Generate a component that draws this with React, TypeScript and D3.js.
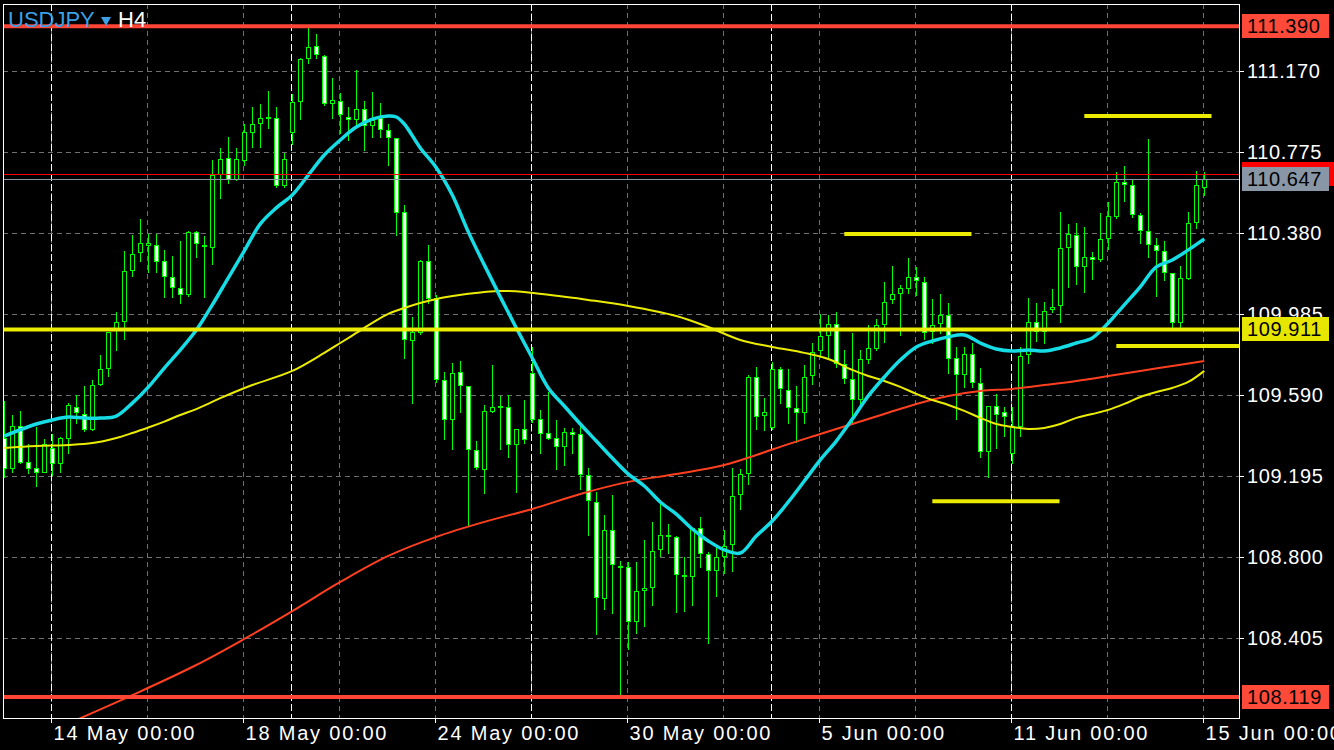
import React, { useEffect } from "react";
import * as d3 from "d3";

const W = 1334;
const H = 750;

// ---------- data ----------
const opens = [
  109.382,109.236,109.440,109.265,109.236,109.216,109.333,109.260,109.382,109.533,
  109.499,109.426,109.645,109.723,109.908,109.953,110.202,110.289,110.324,110.324,
  110.246,110.168,110.114,110.085,110.387,110.319,110.314,110.669,110.747,110.645,
  110.737,110.874,110.918,110.947,110.942,110.616,110.874,111.025,111.235,111.294,
  111.245,111.015,111.025,110.947,110.937,110.986,110.908,110.942,110.884,110.845,
  110.485,109.860,109.899,110.246,110.065,109.665,109.474,109.704,109.635,109.323,
  109.231,109.513,109.538,109.533,109.352,109.426,109.699,109.474,109.406,109.382,
  109.343,109.411,109.401,109.201,109.070,108.602,108.934,108.758,108.753,108.490,
  108.641,108.656,108.841,108.906,108.899,108.714,108.709,108.944,108.817,108.739,
  108.807,108.865,109.109,109.211,109.679,109.494,109.435,109.718,109.616,109.528,
  109.509,109.689,109.811,109.884,109.938,109.743,109.669,109.572,109.767,109.821,
  109.938,110.060,110.090,110.114,110.168,110.143,109.904,109.943,109.982,109.772,
  109.694,109.792,109.650,109.318,109.538,109.509,109.309,109.440,109.792,109.947,
  109.904,110.011,110.031,110.314,110.372,110.221,110.265,110.255,110.358,110.465,
  110.630,110.616,110.470,110.392,110.324,110.294,110.187,109.947,110.163,110.436,
  110.606,
];
const highs = [
  109.562,109.494,109.513,109.352,109.435,109.377,109.401,109.387,109.552,109.591,
  109.635,109.665,109.786,109.899,109.997,110.294,110.372,110.450,110.377,110.377,
  110.299,110.270,110.343,110.392,110.392,110.367,110.737,110.796,110.850,110.796,
  110.913,110.996,111.011,111.074,110.996,110.772,111.060,111.235,111.382,111.352,
  111.250,111.138,111.065,110.996,111.177,111.025,111.069,111.015,110.913,110.847,
  110.519,109.972,110.250,110.324,110.080,109.704,109.748,109.758,109.637,109.367,
  109.543,109.738,109.586,109.591,109.428,109.567,109.826,109.518,109.606,109.470,
  109.431,109.431,109.460,109.236,109.119,109.007,109.104,108.783,108.778,108.778,
  108.885,108.973,109.065,108.963,108.904,108.802,108.944,108.997,108.826,108.846,
  108.934,109.236,109.231,109.689,109.728,109.577,109.753,109.728,109.718,109.635,
  109.738,109.845,109.987,109.982,109.997,109.811,109.894,109.811,109.933,109.962,
  110.143,110.221,110.128,110.260,110.216,110.168,110.060,110.085,110.040,109.826,
  109.826,109.845,109.723,109.540,109.596,109.533,109.533,109.826,110.065,110.040,
  110.045,110.109,110.485,110.426,110.431,110.411,110.289,110.480,110.533,110.679,
  110.708,110.645,110.480,110.840,110.358,110.343,110.188,110.221,110.485,110.684,
  110.679,
];
const lows = [
  109.192,109.216,109.260,109.211,109.148,109.214,109.201,109.216,109.309,109.455,
  109.416,109.421,109.638,109.684,109.811,109.865,110.172,110.246,110.192,110.192,
  110.070,110.070,110.040,110.075,110.265,110.070,110.231,110.552,110.625,110.640,
  110.713,110.801,110.801,110.894,110.606,110.606,110.815,110.937,111.211,111.235,
  111.006,110.942,110.869,110.835,110.898,110.786,110.850,110.850,110.713,110.372,
  109.772,109.552,109.889,110.040,109.655,109.377,109.328,109.509,108.953,109.231,
  109.114,109.509,109.328,109.289,109.118,109.357,109.460,109.309,109.377,109.231,
  109.250,109.309,109.133,108.909,108.426,108.548,108.529,108.119,108.353,108.431,
  108.465,108.568,108.807,108.822,108.534,108.538,108.568,108.753,108.382,108.612,
  108.724,108.734,109.036,109.157,109.426,109.421,109.426,109.552,109.455,109.362,
  109.455,109.645,109.777,109.777,109.728,109.650,109.455,109.552,109.748,109.811,
  109.850,110.040,109.884,110.090,110.080,109.865,109.845,109.894,109.699,109.474,
  109.630,109.630,109.289,109.192,109.333,109.391,109.260,109.391,109.748,109.855,
  109.845,109.997,109.947,110.119,110.133,110.094,110.158,110.246,110.304,110.455,
  110.538,110.460,110.333,110.265,110.075,110.153,109.923,109.923,110.158,110.407,
  110.567,
];
const closes = [
  109.236,109.440,109.265,109.236,109.216,109.352,109.260,109.382,109.543,109.509,
  109.426,109.640,109.718,109.897,109.947,110.197,110.280,110.333,110.333,110.246,
  110.172,110.119,110.085,110.387,110.333,110.324,110.664,110.742,110.645,110.742,
  110.874,110.913,110.942,110.945,110.616,110.742,111.020,111.230,111.289,111.255,
  111.015,111.030,110.962,110.937,110.986,110.908,110.933,110.889,110.850,110.485,
  109.865,109.899,110.246,110.065,109.669,109.474,109.699,109.640,109.328,109.240,
  109.513,109.533,109.536,109.352,109.426,109.377,109.474,109.406,109.382,109.343,
  109.411,109.401,109.206,109.080,108.607,108.934,108.768,108.756,108.490,108.636,
  108.651,108.831,108.909,108.909,108.719,108.715,108.944,108.822,108.739,108.802,
  108.856,109.099,109.206,109.679,109.489,109.509,109.718,109.626,109.533,109.509,
  109.679,109.801,109.879,109.938,109.748,109.674,109.572,109.767,109.821,109.933,
  110.045,110.085,110.114,110.168,110.153,109.899,109.933,109.982,109.772,109.694,
  109.792,109.655,109.318,109.536,109.499,109.489,109.440,109.782,109.947,109.904,
  110.001,110.021,110.309,110.377,110.221,110.265,110.255,110.353,110.465,110.630,
  110.621,110.475,110.397,110.328,110.299,110.192,109.947,110.163,110.431,110.616,
  110.647,
];

// moving averages: [candle index, price]
const maFast: [number, number][] = [
  [0,109.391],[4,109.450],[6,109.470],[8,109.484],[10,109.479],[12,109.479],[14,109.489],[16,109.552],
  [18,109.630],[20,109.723],[22,109.811],[24,109.908],[26,110.031],[28,110.163],[30,110.294],[32,110.426],
  [34,110.504],[36,110.567],[38,110.664],[40,110.762],[42,110.835],[44,110.898],[46,110.937],[48,110.952],
  [49,110.947],[50,110.913],[52,110.796],[54,110.700],[56,110.567],[58,110.387],[60,110.226],[62,110.070],
  [64,109.918],[66,109.772],[68,109.626],[70,109.538],[72,109.450],[74,109.367],[76,109.284],[78,109.206],
  [80,109.148],[82,109.070],[84,109.011],[86,108.938],[88,108.880],[90,108.836],[92,108.821],[94,108.904],
  [96,108.977],[98,109.070],[100,109.172],[102,109.275],[104,109.367],[106,109.474],[108,109.587],[110,109.679],
  [112,109.762],[114,109.826],[116,109.855],[118,109.875],[120,109.884],[122,109.845],[124,109.816],[126,109.806],
  [128,109.811],[130,109.806],[132,109.821],[134,109.845],[136,109.870],[138,109.943],[140,110.031],[142,110.119],
  [144,110.216],[146,110.250],[148,110.299],[150,110.353],
];
const maMid: [number, number][] = [
  [0,109.333],[4,109.343],[8,109.348],[11,109.357],[14,109.382],[16,109.406],[18,109.433],
  [20,109.462],[22,109.494],[24,109.523],[27,109.576],[31,109.640],[36,109.709],[40,109.797],[42,109.845],
  [44,109.894],[46,109.943],[48,109.987],[50,110.016],[52,110.040],[54,110.060],[58,110.085],[62,110.099],
  [65,110.094],[69,110.075],[73,110.055],[78,110.026],[84,109.977],[88,109.923],[92,109.860],[96,109.826],
  [100,109.797],[103,109.767],[106,109.714],[108,109.684],[110,109.660],[112,109.631],[114,109.597],[116,109.567],
  [118,109.543],[120,109.514],[122,109.480],[124,109.450],[126,109.436],[128,109.426],[130,109.431],[132,109.450],
  [134,109.480],[136,109.499],[138,109.519],[140,109.548],[142,109.582],[144,109.606],[146,109.626],[148,109.655],
  [150,109.709],
];
const maSlow: [number, number][] = [
  [9,108.007],[16,108.128],[24,108.275],[30,108.402],[36,108.538],[42,108.680],[48,108.807],[54,108.900],
  [60,108.973],[66,109.036],[72,109.109],[78,109.168],[84,109.206],[90,109.250],[94,109.299],[98,109.352],
  [102,109.401],[106,109.450],[110,109.499],[114,109.548],[118,109.587],[122,109.611],[126,109.621],[130,109.640],
  [134,109.660],[138,109.684],[142,109.709],[146,109.733],[150,109.757],
];

const redLevels = [111.390, 108.119];
const yellowLevel = 109.911;
const bidPrice = 110.647;
const askPrice = 110.667;

const segStart = [135, 105, 116, 139];
const segEnd = [150.9, 120.9, 131.9, 170];
const segPrice = [110.952, 110.377, 109.074, 109.830];

const yTicks = [111.170, 110.775, 110.380, 109.985, 109.590, 109.195, 108.800, 108.405];
const timeTickIdx = [6, 30, 54, 78, 102, 126, 150];
const timeLabels = ["14 May 00:00", "18 May 00:00", "24 May 00:00", "30 May 00:00", "5 Jun 00:00", "11 Jun 00:00", "15 Jun 00:00"];
const gridIdx = [6, 18, 30, 42, 54, 66, 78, 90, 102, 114, 126, 138, 150];
const weekStartIdx = [6, 36, 66, 96, 126];

// ---------- styles ----------
const FONT = "'Liberation Sans', Arial, sans-serif";
const GREEN = "#00ff00";
const RED_LINE = "#ff4536";
const YELLOW = "#ecec00";
const CYAN = "#16dce6";
const PL = 3, PT = 4, PR = 1239, PB = 718;

export default function App() {
  useEffect(() => {
    document.body.style.margin = "0";
    document.body.style.background = "#000";
  }, []);

  const x = d3.scaleLinear().domain([0, 150]).range([4.3, 1204.3]);
  const y = d3.scaleLinear().domain([108.0, 111.5]).range([721.4, 3.6]);
  const py = (p: number) => Math.round(y(p)) + 0.5;
  const gx = (i: number) => Math.floor(x(i)) - 0.5;

  const line = d3
    .line<[number, number]>()
    .x((d) => x(d[0]))
    .y((d) => y(d[1]))
    .curve(d3.curveCatmullRom.alpha(0.5));

  const candles = opens.map((o, i) => {
    const c = closes[i];
    const cx = Math.floor(x(i)) + 0.5;
    const top = Math.round(y(Math.max(o, c))) + 0.5;
    const bot = Math.round(y(Math.min(o, c))) + 0.5;
    const bull = c >= o;
    return (
      <g key={i}>
        <line x1={cx} x2={cx} y1={Math.round(y(highs[i]))} y2={Math.round(y(lows[i])) + 1} stroke={GREEN} strokeWidth={1} />
        <rect x={cx - 2} y={top} width={4} height={Math.max(1, bot - top)} fill={bull ? "#000" : "#fff"} stroke={GREEN} strokeWidth={1} />
      </g>
    );
  });

  const boxLabel = (p: number, fill: string, key: string) => {
    const cy = y(p);
    return (
      <g key={key}>
        <rect x={1242} y={Math.round(cy) - 12} width={87} height={24} fill={fill} />
        <text x={1247} y={Math.round(cy) + 7} fill="#000" fontSize={20} fontFamily={FONT} letterSpacing={0.6}>
          {p.toFixed(3)}
        </text>
      </g>
    );
  };

  return (
    <svg width={W} height={H} style={{ position: "absolute", left: 0, top: 0, display: "block", background: "#000" }}>
      <defs>
        <clipPath id="plotClip">
          <rect x={PL + 1} y={PT + 1} width={PR - PL - 1} height={PB - PT - 1} />
        </clipPath>
      </defs>
      <rect x={0} y={0} width={W} height={H} fill="#000" />

      {/* grid */}
      <g clipPath="url(#plotClip)">
        {yTicks.map((t) => (
          <line key={"hg" + t} x1={PL} x2={PR} y1={py(t)} y2={py(t)} stroke="#707070" strokeWidth={1} strokeDasharray="5,4" />
        ))}
        {gridIdx.map((i) => (
          <line key={"vg" + i} x1={gx(i)} x2={gx(i)} y1={PT} y2={PB} stroke="#707070" strokeWidth={1} strokeDasharray="5,4" />
        ))}
        {weekStartIdx.map((i) => (
          <line key={"ws" + i} x1={gx(i)} x2={gx(i)} y1={PT} y2={PB} stroke="#ffffff" strokeWidth={1} strokeDasharray="7,3" />
        ))}
      </g>

      <g clipPath="url(#plotClip)">
        {candles}
        <path d={line(maSlow) || ""} fill="none" stroke="#ff4020" strokeWidth={2} />
        <path d={line(maMid) || ""} fill="none" stroke={YELLOW} strokeWidth={2} />
        <path d={line(maFast) || ""} fill="none" stroke={CYAN} strokeWidth={3.5} />

        {/* bid / ask */}
        <line x1={PL} x2={PR} y1={py(askPrice)} y2={py(askPrice)} stroke="#ff0000" strokeWidth={1} />
        <line x1={PL} x2={PR} y1={py(bidPrice)} y2={py(bidPrice)} stroke="#8896a5" strokeWidth={1} />

        {/* horizontal levels */}
        {redLevels.map((p) => (
          <line key={"rl" + p} x1={PL} x2={PR} y1={y(p)} y2={y(p)} stroke={RED_LINE} strokeWidth={4} />
        ))}
        <line x1={PL} x2={PR} y1={y(yellowLevel)} y2={y(yellowLevel)} stroke={YELLOW} strokeWidth={4} />
        {segPrice.map((p, k) => (
          <line key={"sg" + k} x1={x(segStart[k])} x2={x(segEnd[k])} y1={y(p)} y2={y(p)} stroke={YELLOW} strokeWidth={4} />
        ))}
      </g>

      {/* frame */}
      <rect x={PL + 0.5} y={PT + 0.5} width={PR - PL} height={PB - PT} fill="none" stroke="#ffffff" strokeWidth={1} />

      {/* title */}
      <text x={8} y={27} fontFamily={FONT} fontSize={22} fill="#3ca0e6">USDJPY</text>
      <path d="M101,17 L111,17 L106,26 Z" fill="#3ca0e6" />
      <text x={118} y={27} fontFamily={FONT} fontSize={22} fill="#ffffff">H4</text>

      {/* y axis */}
      {yTicks.map((t) => (
        <g key={"yt" + t}>
          <line x1={PR} x2={PR + 5} y1={py(t)} y2={py(t)} stroke="#fff" />
          <text x={1247} y={Math.round(y(t)) + 7} fill="#fff" fontSize={20} fontFamily={FONT} letterSpacing={0.6}>
            {t.toFixed(3)}
          </text>
        </g>
      ))}
      {boxLabel(redLevels[0], "#ff4a3a", "b1")}
      <rect x={1242} y={Math.round(y(askPrice)) - 12} width={92} height={24} fill="#ff0000" />
      {boxLabel(bidPrice, "#8896a5", "b2")}
      {boxLabel(yellowLevel, "#e6e600", "b3")}
      {boxLabel(redLevels[1], "#ff4a3a", "b4")}

      {/* x axis */}
      {timeTickIdx.map((i, k) => (
        <g key={"xt" + i}>
          <line x1={gx(i)} x2={gx(i)} y1={PB} y2={PB + 5} stroke="#fff" />
          <text x={gx(i) + 2} y={740} fill="#fff" fontSize={20} fontFamily={FONT} letterSpacing={1.8}>
            {timeLabels[k]}
          </text>
        </g>
      ))}
    </svg>
  );
}
